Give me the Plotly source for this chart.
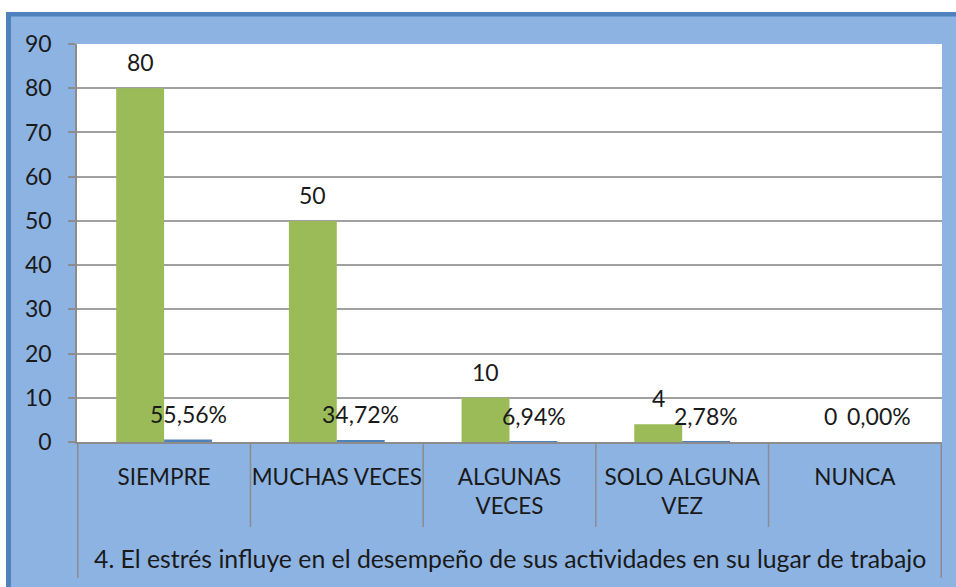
import plotly.graph_objects as go

categories = ["SIEMPRE", "MUCHAS VECES", "ALGUNAS<br>VECES", "SOLO ALGUNA<br>VEZ", "NUNCA"]
counts = [80, 50, 10, 4, 0]
percents = [0.5556, 0.3472, 0.0694, 0.0278, 0.0]
y_ticks = [0, 10, 20, 30, 40, 50, 60, 70, 80, 90]
title_text = "4. El estrés influye en el desempeño de sus actividades en su lugar de trabajo"

FONT = "Lato"
W, H = 956, 587
ML, MR, MT, MB = 77, 14, 44, 145
PW, PH = W - ML - MR, H - MT - MB


def px_x(px):
    return (px - ML) / PW


def px_y(py):
    return (H - MB - py) / PH


fig = go.Figure()
fig.add_trace(go.Bar(x=categories, y=counts, marker=dict(color="#9BBB59", line=dict(width=0)),
                     name="Frecuencia", showlegend=False))
fig.add_trace(go.Bar(x=categories, y=percents, marker=dict(color="#4F81BD", line=dict(width=0)),
                     name="Porcentaje", showlegend=False))

annotations = []
for c, v, p in zip(categories, counts, percents):
    annotations.append(dict(x=c, y=v, xref="x", yref="y", text=str(v), showarrow=False,
                            xshift=-24, yshift=26, yanchor="middle",
                            font=dict(family=FONT, size=23, color="#1a1a1a")))
    annotations.append(dict(x=c, y=p, xref="x", yref="y",
                            text=f"{p*100:.2f}%".replace(".", ","), showarrow=False,
                            xshift=24, yshift=26, yanchor="middle",
                            font=dict(family=FONT, size=23, color="#1a1a1a")))
annotations.append(dict(x=0.5, y=px_y(558), xref="paper", yref="paper", text=title_text,
                        showarrow=False, xanchor="center", yanchor="middle",
                        font=dict(family=FONT, size=24.8, color="#1a1a1a")))

shapes = []
# white strip above border and dark blue frame
shapes.append(dict(type="rect", xref="paper", yref="paper", x0=px_x(-5), x1=px_x(W + 5),
                   y0=px_y(12), y1=px_y(-5), fillcolor="white", line=dict(width=0), layer="above"))
shapes.append(dict(type="rect", xref="paper", yref="paper", x0=px_x(-5), x1=px_x(6),
                   y0=px_y(H + 5), y1=px_y(-5), fillcolor="white", line=dict(width=0), layer="above"))
shapes.append(dict(type="rect", xref="paper", yref="paper", x0=px_x(6), x1=px_x(W + 5),
                   y0=px_y(16.5), y1=px_y(12), fillcolor="#4F81BD", line=dict(width=0), layer="above"))
shapes.append(dict(type="rect", xref="paper", yref="paper", x0=px_x(6), x1=px_x(11),
                   y0=px_y(H + 5), y1=px_y(12), fillcolor="#4F81BD", line=dict(width=0), layer="above"))
# category separators
n = len(categories)
for i in range(n + 1):
    bottom = 578 if i in (0, n) else 527
    shapes.append(dict(type="line", xref="x", yref="paper", x0=i - 0.5, x1=i - 0.5,
                       y0=0, y1=px_y(bottom), line=dict(color="#8C8C8C", width=1.5)))

fig.update_layout(
    width=W, height=H,
    margin=dict(l=ML, r=MR, t=MT, b=MB),
    paper_bgcolor="#8DB3E2",
    plot_bgcolor="white",
    barmode="group",
    bargap=0.445,
    bargroupgap=0,
    annotations=annotations,
    shapes=shapes,
    font=dict(family=FONT, size=23, color="#1a1a1a"),
)
fig.update_yaxes(range=[0, 90], tickvals=y_ticks, showgrid=True, gridcolor="#A0A0A0", gridwidth=1.5,
                 showline=True, linecolor="#8C8C8C", linewidth=1.5, ticks="outside", ticklen=7,
                 tickcolor="#8C8C8C", tickwidth=1.5, ticklabelstandoff=12,
                 tickfont=dict(family=FONT, size=23, color="#1a1a1a"), zeroline=False, fixedrange=True)
fig.update_xaxes(showline=True, linecolor="#8C8C8C", linewidth=1.5, ticks="", showgrid=False,
                 tickfont=dict(family=FONT, size=22.5, color="#1a1a1a"), ticklabelstandoff=14,
                 fixedrange=True)

fig.write_html("out.html", config={"displayModeBar": False},
               post_script="document.body.style.margin='0';document.body.style.padding='0';")
